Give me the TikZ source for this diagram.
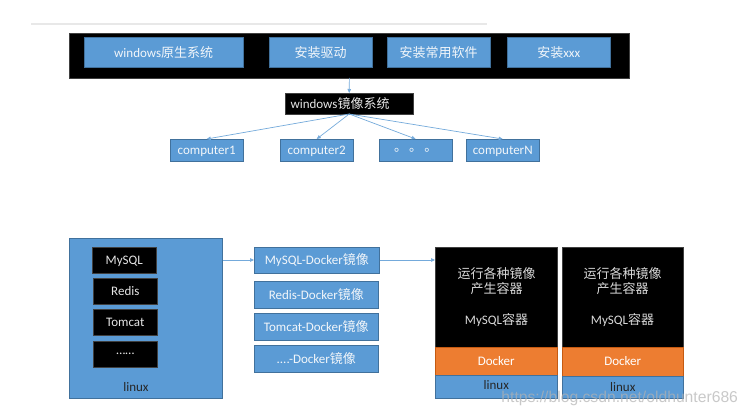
\documentclass[tikz,border=0pt]{standalone}
\usepackage{fontspec}
\setmainfont{Carlito}
\newfontfamily\cjk{Noto Sans CJK SC}
\newfontfamily\wmfont{Liberation Sans}
\usetikzlibrary{arrows.meta}
\newcommand{\cn}[1]{{\cjk #1}}
\definecolor{bluefill}{HTML}{5B9BD5}
\definecolor{blueedge}{HTML}{41719C}
\definecolor{orangefill}{HTML}{ED7D31}
\definecolor{orangeedge}{HTML}{C55A11}
\definecolor{softwhite}{HTML}{F2F6FA}
\tikzset{
  x=1pt,y=-1pt,
  every node/.style={font=\fontsize{13}{15}\selectfont,inner sep=0pt,outer sep=0pt},
  bluebox/.style={draw=blueedge,line width=.6pt,fill=bluefill,text=softwhite,anchor=north west},
  blackbox/.style={draw=black!75,line width=.4pt,fill=black,text=white!90!black,anchor=north west},
  orangebox/.style={draw=orangeedge,line width=.6pt,fill=orangefill,text=white,anchor=north west},
  darklabel/.style={text=black!85},
  lighttext/.style={text=white!85!black,align=center},
  conn/.style={draw=bluefill!85!white,line width=.7pt,-{Triangle[length=4pt,width=3.5pt]}}
}
\begin{document}
\begin{tikzpicture}
\useasboundingbox (0,0) rectangle (748,417);
\fill[white] (0,0) rectangle (748,417);
\fill[black!9] (31,23) rectangle (487,24.6);

% top row
\node[blackbox,minimum width=560.4pt,minimum height=45pt] (host) at (69.2,33) {};
\node[bluebox,minimum width=159.4pt,minimum height=30pt] (win) at (84,37.5) {windows\cn{原生系统}};
\node[bluebox,minimum width=103.4pt,minimum height=30pt] (drv) at (269,37.5) {\cn{安装驱动}};
\node[bluebox,minimum width=103.4pt,minimum height=30pt] (soft) at (387,37.5) {\cn{安装常用软件}};
\node[bluebox,minimum width=103.4pt,minimum height=30pt] (xxx) at (507,37.5) {\cn{安装}xxx};

\node[blackbox,minimum width=128.4pt,minimum height=21pt,text width=117.4pt,inner xsep=5.5pt,align=left] (mirror) at (285,93) {windows\cn{镜像系统}};

\node[bluebox,minimum width=73.4pt,minimum height=22pt,text height=11pt] (c1) at (170,139) {computer1};
\node[bluebox,minimum width=73.4pt,minimum height=22pt,text height=11pt] (c2) at (280,139) {computer2};
\node[bluebox,minimum width=73.4pt,minimum height=22pt] (cd) at (379,139) {\cn{。\,。\,。}};
\node[bluebox,minimum width=73.4pt,minimum height=22pt,text height=11pt] (cn) at (466,139) {computerN};

\draw[conn] (host.south) -- (mirror.north);
\draw[conn] (mirror.south) -- (c1.north);
\draw[conn] (mirror.south) -- (c2.north);
\draw[conn] (mirror.south) -- (cd.north);
\draw[conn] (mirror.south) -- (cn.north);

% linux host
\node[bluebox,minimum width=153.6pt,minimum height=160pt] (lx) at (69,238) {};
\node[blackbox,minimum width=64.6pt,minimum height=26pt,text height=11pt] (s1) at (92,247) {MySQL};
\node[blackbox,minimum width=64.6pt,minimum height=26pt] (s2) at (93,278) {Redis};
\node[blackbox,minimum width=64.6pt,minimum height=26pt] (s3) at (93,309) {Tomcat};
\node[blackbox,minimum width=64.6pt,minimum height=26pt] (s4) at (93,341) {\raisebox{1pt}{……}};
\node[darklabel] (lxl) at (136,387) {linux};

% images
\node[bluebox,minimum width=125.6pt,minimum height=26pt,text height=11pt] (i1) at (254,247) {MySQL-Docker\cn{镜像}};
\node[bluebox,minimum width=124.6pt,minimum height=27pt] (i2) at (254,281) {Redis-Docker\cn{镜像}};
\node[bluebox,minimum width=124.6pt,minimum height=27pt] (i3) at (254,313) {Tomcat-Docker\cn{镜像}};
\node[bluebox,minimum width=124.6pt,minimum height=27pt] (i4) at (254,345) {....-Docker\cn{镜像}};

% stacks
\node[blackbox,minimum width=122.6pt,minimum height=100pt] (a1) at (435,247) {};
\node[orangebox,minimum width=122.6pt,minimum height=28pt] (a2) at (435,347) {Docker};
\node[bluebox,text=black!85,minimum width=122.6pt,minimum height=23pt,text depth=3pt] (a3) at (435,375) {linux};
\node[lighttext] (a4) at (496.5,281) {\cn{运行各种镜像}\\\cn{产生容器}};
\node[lighttext] (a5) at (496.5,320.5) {MySQL\cn{容器}};

\node[blackbox,minimum width=121.6pt,minimum height=100pt] (b1) at (562,247) {};
\node[orangebox,minimum width=121.6pt,minimum height=29pt] (b2) at (562,347) {Docker};
\node[bluebox,text=black!85,minimum width=121.6pt,minimum height=22pt,text depth=0pt] (b3) at (562,376) {linux};
\node[lighttext] (b4) at (622.5,281) {\cn{运行各种镜像}\\\cn{产生容器}};
\node[lighttext] (b5) at (622.5,320.5) {MySQL\cn{容器}};

\draw[conn] (lx.east |- i1.west) -- (i1.west);
\draw[conn] (i1.east) -- (a1.west |- i1.east);

\node[font=\fontsize{15.7}{17}\wmfont,text=black!30,opacity=.7,anchor=east] (wm) at (738,398) {https://blog.csdn.net/oldhunter686};
\end{tikzpicture}
\end{document}
